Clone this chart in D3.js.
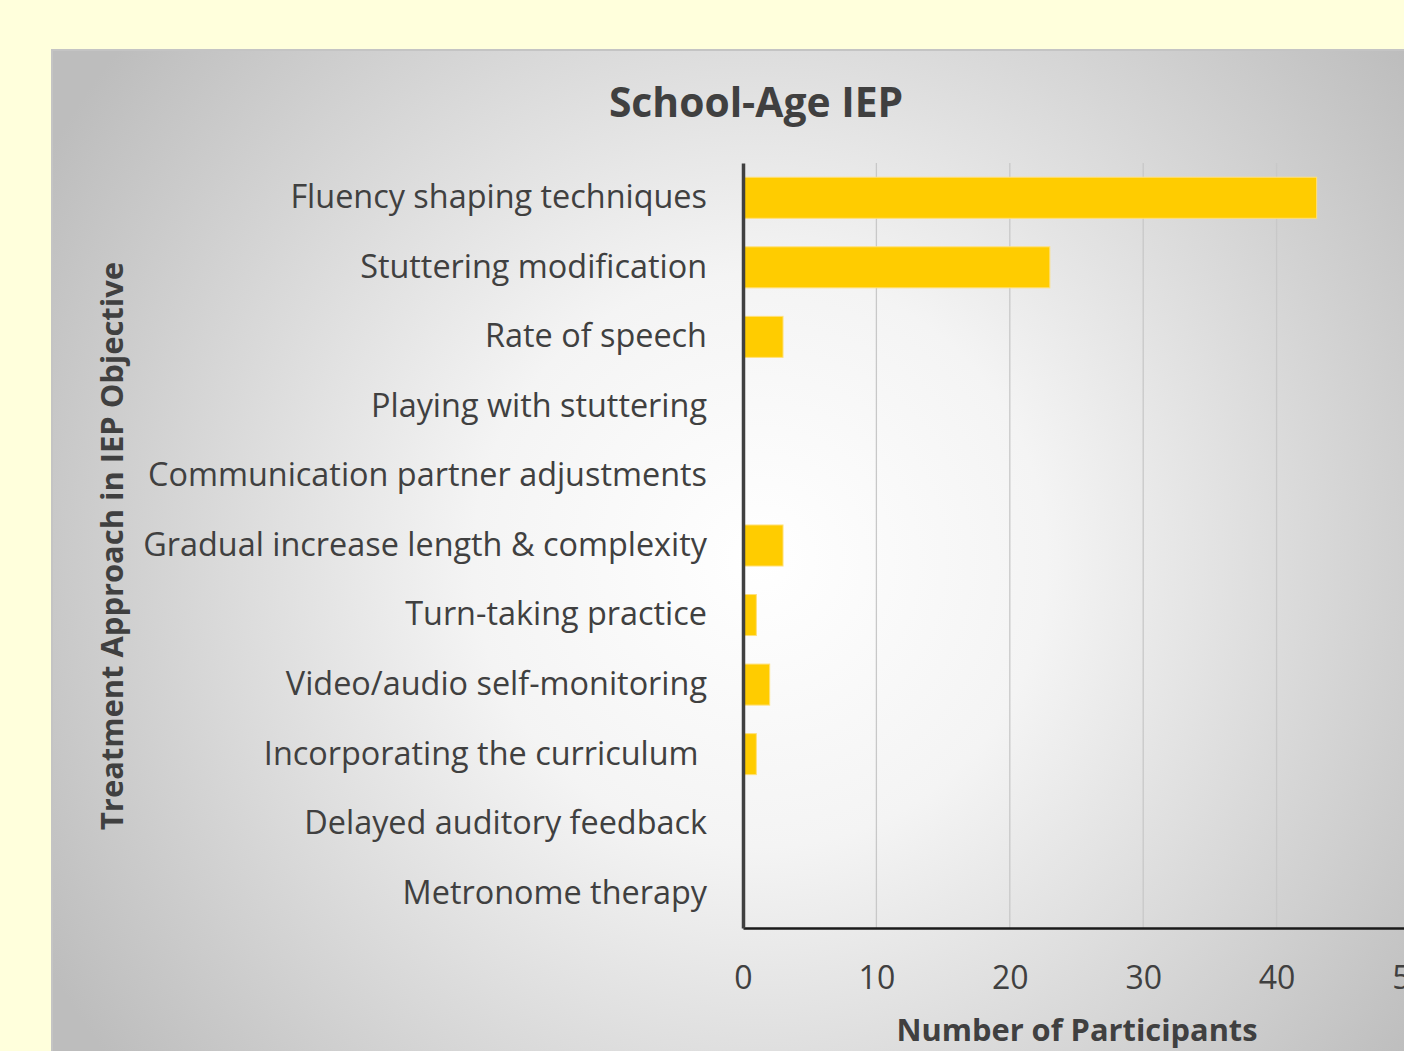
<!DOCTYPE html>
<html>
<head>
<meta charset="utf-8">
<script src="https://cdn.jsdelivr.net/npm/d3@7"></script>
<style>
  body { margin: 0; background: #ffffdc; overflow: hidden; }
  svg { display: block; }
  text { font-family: "Open Sans", "Noto Sans", sans-serif; fill: #404040; }
</style>
</head>
<body>
<script>
// chart values
var categories = [
  "Fluency shaping techniques",
  "Stuttering modification",
  "Rate of speech",
  "Playing with stuttering",
  "Communication partner adjustments",
  "Gradual increase length & complexity",
  "Turn-taking practice",
  "Video/audio self-monitoring",
  "Incorporating the curriculum ",
  "Delayed auditory feedback",
  "Metronome therapy"
];
var participants = [43, 23, 3, 0, 0, 3, 1, 2, 1, 0, 0];
var xTicks = [0, 10, 20, 30, 40, 50];

var width = 1404, height = 1051;
var plot = {left: 743, top: 163, right: 1410, bottom: 928};

var svg = d3.select("body").append("svg")
    .attr("width", width)
    .attr("height", height);

// panel background
var defs = svg.append("defs");
var grad = defs.append("radialGradient")
    .attr("id", "bg")
    .attr("gradientUnits", "userSpaceOnUse")
    .attr("cx", 760).attr("cy", 560).attr("r", 820);
grad.append("stop").attr("offset", "0%").attr("stop-color", "#ffffff");
grad.append("stop").attr("offset", "35%").attr("stop-color", "#f4f4f4");
grad.append("stop").attr("offset", "100%").attr("stop-color", "#bdbdbd");

svg.append("rect")
    .attr("x", 52).attr("y", 50)
    .attr("width", 1400).attr("height", 1100)
    .attr("fill", "url(#bg)")
    .attr("stroke", "#c4c4c4")
    .attr("stroke-width", 2);

var x = d3.scaleLinear().domain([0, 50]).range([plot.left, plot.right]);
var y = d3.scaleBand().domain(categories).range([plot.top, plot.bottom]).paddingInner(0.41).paddingOuter(0.205);

// gridlines
svg.append("g").attr("class", "grid")
  .selectAll("line").data(xTicks.slice(1))
  .enter().append("line")
    .attr("x1", function(d) { return x(d); })
    .attr("x2", function(d) { return x(d); })
    .attr("y1", plot.top)
    .attr("y2", plot.bottom)
    .attr("stroke", "#c8c8c8")
    .attr("stroke-width", 1.3);

// bars
svg.append("g").attr("class", "bars")
  .selectAll("rect").data(categories)
  .enter().append("rect")
    .attr("x", x(0) + 1)
    .attr("y", function(d) { return y(d); })
    .attr("width", function(d, i) { return Math.max(0, x(participants[i]) - x(0) - 1); })
    .attr("height", y.bandwidth())
    .attr("fill", "#ffcc00")
    .attr("stroke", function(d, i) { return participants[i] > 0 ? "#ffe07a" : "none"; })
    .attr("stroke-width", 1);

// x axis
var xAxis = svg.append("g")
    .attr("transform", "translate(0," + plot.bottom + ")")
    .call(d3.axisBottom(x).tickValues(xTicks).tickSize(0).tickPadding(38));
xAxis.select(".domain").attr("stroke", "#1a1a1a").attr("stroke-width", 2.5);
xAxis.selectAll("text")
    .style("font-size", "32px")
    .style("fill", "#404040")
    .style("font-family", "'Open Sans', sans-serif");

// y axis (keep trailing spaces in labels)
var yAxis = svg.append("g")
    .attr("transform", "translate(" + plot.left + ",0)")
    .call(d3.axisLeft(y).tickSize(0).tickPadding(36));
yAxis.select(".domain").attr("stroke", "#404040").attr("stroke-width", 3.5);
yAxis.selectAll("text")
    .style("font-size", "32.4px")
    .style("white-space", "pre")
    .style("fill", "#404040")
    .style("font-family", "'Open Sans', sans-serif");

// titles
svg.append("text")
    .attr("x", 756).attr("y", 117)
    .attr("text-anchor", "middle")
    .style("font-size", "40.8px")
    .style("font-weight", "bold")
    .text("School-Age IEP");

svg.append("text")
    .attr("x", 1077).attr("y", 1041)
    .attr("text-anchor", "middle")
    .style("font-size", "30.8px")
    .style("font-weight", "bold")
    .text("Number of Participants");

svg.append("text")
    .attr("transform", "translate(123,546) rotate(-90)")
    .attr("text-anchor", "middle")
    .style("font-size", "30.9px")
    .style("font-weight", "bold")
    .text("Treatment Approach in IEP Objective");
</script>
</body>
</html>
